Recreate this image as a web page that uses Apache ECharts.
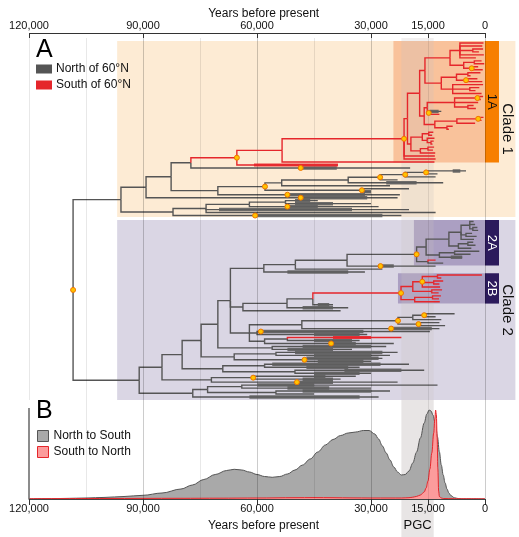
<!DOCTYPE html>
<html><head><meta charset="utf-8">
<script src="https://cdn.jsdelivr.net/npm/echarts@6/dist/echarts.min.js"></script>
<style>html,body{margin:0;padding:0;background:#fff}#c{width:519px;height:537px}</style>
</head><body><div id="c"></div>
<script>
// ---------------- DATA ----------------
// Axis ticks / labels / grid lines (years before present)
const axisLabelYears = [120000, 90000, 60000, 30000, 15000, 0];
const gridYears = [120000, 105000, 90000, 75000, 60000, 45000, 30000, 15000, 0];
const majorGridYears = [90000, 60000, 30000, 0];
const pgcYears = [22000, 13500];            // PGC band (old, young)

// Panel B densities: age (kyr BP) and relative density
const nsAgesK = [120,115,110,105,100,95,90,85,80,77,74,71,68,66,64,62,60,58,56,54,52,50,48,46,44,42,40,38,36,34,32,30.5,29,28,27,26,25,24,23,22,21,20,19,18,17,16,15.3,14.7,14.2,13.7,13,12.5,12,11.5,11,10.5,10,9.5,9,8,7,6,0];
const nsDensity = [0,0.3,0.6,1,1.6,2.5,3.7,6,10,14,19.5,24.5,28.5,29.7,29,27,24.5,22.5,21.7,22.5,25,29,34,40,47,54,59.5,63.5,66,67,68.5,68.5,65,60,53,46,39,32,27,24,24.5,28,36,47,61,76,85,89,88,84,74,62,47,34,24,16,10,6,3.5,1.2,0.4,0.1,0];
const snAgesK = [120,100,80,70,60,50,45,40,35,30,25,22,20,19,18,17,16,15.5,15,14.5,14,13.5,13.2,13.0,12.8,12.6,12.4,12.2,12.0,11.5,11,8,0];
const snDensity = [0.3,0.5,0.7,0.8,1,1.3,1.4,1.3,1.1,1,1,1,1.3,1.8,2.6,4,7,11,18,30,46,66,80,89,84,62,30,8,2.5,1,0.5,0.3,0.2];

// Panel A tree. Internal node = [age kyr, flags, ...children]; leaf = tip age kyr
// or [tip, barOld, barYoung, flags]. flags: r = south (red), g = north (grey), d = dated node marker
const clade1A = [21.3,'rd',
  [20.4,'r',
    [17.2,'r',
      [15.8,'r',
        [9.2,'r',
          [6.6,'r',0.4,0.7,[3.2,'r',0.5,1.6],0.3,2.4],
          [5.6,'r',[2.8,'r',0.9,0.2],[3.5,'rd',1.8,0.6]]],
        [11.5,'r',
          [7.5,'r',[4.5,'r',1.2,3.8],[5.0,'rd',2.0,0.7]],
          [8.5,'r',0.5,[4.0,'r',1.5,2.5],0.9]]],
      [16.0,'r',
        [15.2,'r',
          [8.0,'r',[2.0,'rd',0.5,1.1],1.8,[4.5,'r',3.0,2.4]],
          [14.8,'rd',[11.5,14.6,12.2,'g'],12.0]],
        [13.2,'r',[7.4,'r',[1.8,'rd',0.4,0.9],2.6],[10.0,'r',8.5,9.5]]]],
    [19.5,'r',
      [16.5,'r',[14.8,'r',13.6,13.9],[15.2,'r',13.3,[14.2,'r',13.5,13.8]]],
      [17.0,'r',[15.0,'r',13.4,13.7],13.1]]],
  13.2, 13.0];

const clade1 = [95.8,'',
  [89.2,'',
    [82.6,'',
      [77.4,'',
        [65.3,'rd', [53.4,'r', clade1A, 13.3], [38.7,60.8,38.7,'r']],
        [19.7,48.5,39.0,'d']],
      [70.3,'',
        [57.9,'d',
          [53.5,'',
            [36.0,'',
              [27.6,'d',[21.0,'d',[15.5,'d',[5.0,8.5,6.5],12.5],13.0],23.0],
              [11.0,26.0,18.0]],
            25.0],
          [32.4,'d',20.0,[30.0,32.0,30.0]]],
        [22.4,52.0,31.6,'d']]],
    [23.0,48.5,31.0,'d']],
  [82.1,'',
    [73.4,'',
      [62.0,'',[52.5,'',[44.0,50.0,46.0],[30.0,50.0,40.0]],[28.0,52.0,44.0,'d']],
      [20.0,70.0,35.0],
      13.0],
    [22.0,60.5,27.0,'d']]];

const clade2A = [18.0,'d',
  [15.5,'',
    [9.5,'',[6.3,'',[4.0,'',3.0,2.6,[3.2,'',2.0,1.8]],[5.0,'',3.4,2.2],2.9],[7.0,'',[4.5,'',3.1,2.5],3.6]],
    [12.0,'',[8.0,'',1.5,3.8],[6.0,9.0,6.0]]],
  [15.0,'',[13.0,0,0,'r'],11.0]];

const clade2B = [22.1,'rd',
  [19.0,'r',
    [16.5,'rd',[12.5,'r',0.8,11.5],[13.5,'r',11.0,12.0],11.8],
    [14.0,'r',11.3,12.2]],
  [18.5,'r',[13.8,'r',11.6,12.1],11.9]];

const clade2 = [91.0,'',
  [85.0,'',
    [79.7,'',
      [74.7,'',
        [70.3,'',
          [67.0,'',
            [58.2,'',[49.9,'',[36.3,'',clade2A,[13.0,27.5,24.0,'d']],27.0],[31.6,52.0,36.0]],
            [63.7,'',[52.1,'',[45.3,'',clade2B,[40.0,44.0,41.0]],[36.0,48.0,40.0]],38.0],
            [62.0,'',
              [48.2,'',[22.9,'d',[19.0,'',[16.0,'d',8.0,13.0],11.5],[17.5,'d',12.0,10.5]],[12.0,24.7,14.0,'d']],
              [60.0,'',[14.5,59.0,32.0,'d'],[31.0,45.0,33.0]],
              [58.0,'',[52.0,'',[22.0,40.0,30.0,'r'],[33.0,45.0,35.0]],[24.0,40.5,34.0,'d']]]],
          [56.0,'',[26.0,48.0,30.0],[35.0,52.0,40.0]]],
        [66.0,'',[55.0,'',[23.0,50.0,27.0],[25.0,45.0,30.0]],[47.5,'d',[27.0,47.0,28.0],[30.0,44.0,32.0]]]],
      [69.0,'',[58.0,'',[20.0,56.0,27.5],[33.0,47.0,36.0]],[50.0,'',[16.0,37.0,22.0],[30.0,45.0,33.0]]]],
    [72.0,'',[61.0,'d',[34.0,45.0,42.0],[38.0,48.0,40.0]],[23.0,49.5,40.0,'d']]],
  [76.9,'',[73.0,'',[64.0,'',[12.5,60.0,45.0],[30.0,52.0,41.0]],[55.0,'',[25.0,48.0,30.0],45.0]],[28.0,62.0,33.0]]];

const treeRoot = [108.4,'d', clade1, clade2];

// Left edges (kyr BP) of the highlighted clade boxes
const boxStartK = {clade: 96.8, c1A: 24.1, c2A: 18.7, c2B: 22.9};

// ---------------- LAYOUT ----------------
const FONT = '"Liberation Sans", Arial, Helvetica, sans-serif';
const X_MIN = -8000;          // room right of "0" for clade tabs
const TAB_END = -3680;
const CLADE_GAP = 1;
const nodeInfo = new Map();
let leafCursor = 0;
function isLeaf(n) { return typeof n === 'number' || typeof n[1] !== 'string'; }
function layout(node, parentRed) {
  if (isLeaf(node)) {
    const a = typeof node === 'number' ? [node] : node;
    const f = a[3] || '';
    const red = f.includes('r') ? true : (f.includes('g') ? false : parentRed);
    const y = leafCursor++;
    return {age: a[0] * 1000, y, minY: y, maxY: y, red, children: [],
      bar: a[1] ? [a[1] * 1000, a[2] * 1000] : null, barRed: f.includes('r'), dot: f.includes('d')};
  }
  const f = node[1];
  const red = f.includes('r') ? true : (f.includes('g') ? false : parentRed);
  if (node === clade2) leafCursor += CLADE_GAP;
  const children = node.slice(2).map(c => layout(c, red));
  const info = {age: node[0] * 1000, red, dot: f.includes('d'), children,
    y: (children[0].y + children[children.length - 1].y) / 2,
    minY: children[0].minY, maxY: children[children.length - 1].maxY};
  nodeInfo.set(node, info);
  return info;
}
const root = layout(treeRoot, false);
const lastIdx = leafCursor - 1;

const grayLines = [], redLines = [], grayBars = [], redBars = [], dotPts = [];
function collect(n) {
  n.children.forEach(c => {
    (c.red ? redLines : grayLines).push({coords: [[n.age, n.y], [n.age, c.y], [c.age, c.y]]});
    collect(c);
  });
  if (n.bar) (n.barRed ? redBars : grayBars).push({coords: [[n.bar[0], n.y], [n.bar[1], n.y]]});
  if (n.dot) dotPts.push([n.bar ? n.bar[0] : n.age, n.y]);
}
collect(root);

// pixel geometry of panel A (leaf 0 at 43px, last leaf at 397px)
const G0_TOP = 33, G0_BOTTOM = 400, LEAF_TOP = 43, LEAF_BOTTOM = 397;
const s = (LEAF_BOTTOM - LEAF_TOP) / lastIdx;
const yMin = -(LEAF_TOP - G0_TOP) / s;
const yMax = lastIdx + (G0_BOTTOM - LEAF_BOTTOM) / s;
const yGridTop = -(LEAF_TOP - 38) / s;

const c1 = nodeInfo.get(clade1), c2 = nodeInfo.get(clade2);
const a1 = nodeInfo.get(clade1A), a2 = nodeInfo.get(clade2A), b2 = nodeInfo.get(clade2B);
const c1Top = c1.minY - 0.67, c1Bot = c1.maxY + 0.5;
const c2Top = c2.minY - 0.5, c2Bot = yMax;
const a1Top = a1.minY - 0.67, a1Bot = a1.maxY + 1.2;
const a2Top = a2.minY - 0.5, a2Bot = a2.maxY + 0.8;
const b2Top = b2.minY - 0.6, b2Bot = b2.maxY + 0.6;

function area(x1, y1, x2, y2, color, label, name) {
  const first = {coord: [x1, y1], itemStyle: {color}};
  if (label) { first.name = name; first.label = Object.assign({show: true, position: 'inside', rotate: -90, fontFamily: FONT}, label); }
  else first.label = {show: false};
  return [first, {coord: [x2, y2]}];
}
const boxAreas = [
  area(boxStartK.clade * 1000, c1Top, X_MIN, c1Bot, '#fdebd4'),
  area(boxStartK.clade * 1000, c2Top, X_MIN, c2Bot, '#dad6e4'),
  area(boxStartK.c1A * 1000, a1Top, 0, a1Bot, '#f9c29b'),
  area(boxStartK.c2A * 1000, a2Top, 0, a2Bot, '#ab9fc2'),
  area(boxStartK.c2B * 1000, b2Top, 0, b2Bot, '#ab9fc2'),
  area(0, a1Top, TAB_END, a1Bot, '#f77f00', {color: '#111', fontSize: 13}, '1A'),
  area(0, a2Top, TAB_END, a2Bot, '#2c1a5c', {color: '#fff', fontSize: 13}, '2A'),
  area(0, b2Top, TAB_END, b2Bot, '#2c1a5c', {color: '#fff', fontSize: 13}, '2B'),
  area(TAB_END, c1Top, X_MIN, c1Bot, 'rgba(0,0,0,0)', {color: '#111', fontSize: 15}, 'Clade 1'),
  area(TAB_END, c2Top, X_MIN, c2Bot, 'rgba(0,0,0,0)', {color: '#111', fontSize: 15}, 'Clade 2')
];

function gridColor(x) { return majorGridYears.includes(x) ? 'rgba(0,0,0,0.2)' : 'rgba(0,0,0,0.09)'; }
const gridLines0 = gridYears.map(x => [{coord: [x, yGridTop], lineStyle: {color: gridColor(x), width: 1, type: 'solid'}}, {coord: [x, yMax]}]);
gridLines0.push([{coord: [120000, yMin], lineStyle: {color: '#333', width: 1, type: 'solid'}}, {coord: [0, yMin]}]);
const gridLines1 = gridYears.filter(x => x !== 120000).map(x => [{coord: [x, 0], lineStyle: {color: gridColor(x), width: 1, type: 'solid'}}, {coord: [x, 99]}]);
gridLines1.push([{coord: [120000, 0], lineStyle: {color: '#666', width: 1.5, type: 'solid'}}, {coord: [120000, 91]}]);

const PGC_TOP_COLOR = 'rgba(200,194,194,0.24)';
const PGC_COLOR = 'rgba(200,194,194,0.42)';
const nsData = nsAgesK.map((k, i) => [k * 1000, nsDensity[i]]);
const snData = snAgesK.map((k, i) => [k * 1000, snDensity[i]]);
const fmt = v => Number(v).toLocaleString('en-US');

const linesBase = {type: 'lines', coordinateSystem: 'cartesian2d', xAxisIndex: 0, yAxisIndex: 0, polyline: true, silent: true};

const option = {
  animation: false,
  textStyle: {fontFamily: FONT},
  title: [
    {text: 'A', left: 36, top: 38, padding: 0, textStyle: {fontSize: 25, fontWeight: 'normal', color: '#000', fontFamily: FONT}},
    {text: 'B', left: 36, top: 399, padding: 0, textStyle: {fontSize: 25, fontWeight: 'normal', color: '#000', fontFamily: FONT}}
  ],
  legend: [
    {data: [{name: 'North of 60°N', icon: 'rect', itemStyle: {color: '#555'}},
            {name: 'South of 60°N', icon: 'rect', itemStyle: {color: '#e5262b'}}],
     orient: 'vertical', left: 36, top: 63, padding: 0, itemWidth: 14, itemHeight: 7, itemGap: 4,
     selectedMode: false, textStyle: {fontSize: 12, color: '#111', fontFamily: FONT}},
    {data: [{name: 'North to South', icon: 'rect', itemStyle: {color: '#a9a9a9', borderColor: '#555', borderWidth: 1}},
            {name: 'South to North', icon: 'rect', itemStyle: {color: '#fc9c9c', borderColor: '#e5262b', borderWidth: 1}}],
     orient: 'vertical', left: 37, top: 430, padding: 0, itemWidth: 11, itemHeight: 11, itemGap: 4,
     selectedMode: false, textStyle: {fontSize: 12, color: '#111', fontFamily: FONT}}
  ],
  grid: [
    {left: 29, top: G0_TOP, width: 128000 * 0.0038, height: G0_BOTTOM - G0_TOP, outerBoundsMode: 'none', containLabel: false},
    {left: 29, top: 400, width: 456, height: 99, outerBoundsMode: 'none', containLabel: false},
    {left: 29, top: 499, width: 456, height: 38, outerBoundsMode: 'none', containLabel: false}
  ],
  xAxis: [
    {gridIndex: 0, type: 'value', inverse: true, min: X_MIN, max: 120000, position: 'top',
     axisLine: {show: false, onZero: false},
     axisTick: {show: true, inside: true, length: 5, customValues: axisLabelYears, lineStyle: {color: '#333'}},
     axisLabel: {customValues: axisLabelYears, formatter: fmt, margin: 2, fontSize: 11, color: '#111', fontFamily: FONT},
     splitLine: {show: false},
     name: 'Years before present', nameLocation: 'middle', nameGap: 13, nameMoveOverlap: false,
     nameTextStyle: {fontSize: 12, color: '#111', fontFamily: FONT, padding: [0, 17, 0, 0]}},
    {gridIndex: 1, type: 'value', inverse: true, min: 0, max: 120000, position: 'bottom', z: 6,
     axisLine: {show: true, onZero: false, lineStyle: {color: '#444', width: 1}},
     axisTick: {show: true, length: 6, customValues: axisLabelYears, lineStyle: {color: '#333'}},
     axisLabel: {customValues: axisLabelYears, formatter: fmt, margin: 4, fontSize: 11, color: '#111', fontFamily: FONT},
     splitLine: {show: false},
     name: 'Years before present', nameLocation: 'middle', nameGap: 21, nameMoveOverlap: false,
     nameTextStyle: {fontSize: 12, color: '#111', fontFamily: FONT, padding: [0, 0, 0, 13]}},
    {gridIndex: 2, type: 'value', inverse: true, min: 0, max: 120000, show: false}
  ],
  yAxis: [
    {gridIndex: 0, type: 'value', inverse: true, min: yMin, max: yMax, show: false},
    {gridIndex: 1, type: 'value', min: 0, max: 99, show: false},
    {gridIndex: 2, type: 'value', min: 0, max: 1, show: false}
  ],
  series: [
    {type: 'scatter', xAxisIndex: 0, yAxisIndex: 0, data: [], z: 1, silent: true,
     markArea: {silent: true, data: boxAreas}},
    {type: 'scatter', xAxisIndex: 0, yAxisIndex: 0, data: [], z: 2, silent: true,
     markLine: {silent: true, symbol: ['none', 'none'], label: {show: false}, data: gridLines0}},
    {type: 'scatter', xAxisIndex: 0, yAxisIndex: 0, data: [], z: 3, silent: true,
     markArea: {silent: true, data: [[{coord: [pgcYears[0], yGridTop], itemStyle: {color: PGC_TOP_COLOR}, label: {show: false}}, {coord: [pgcYears[1], yMax]}]]}},
    Object.assign({}, linesBase, {name: 'North of 60°N', z: 4, data: grayLines, lineStyle: {color: '#555', width: 1.4, opacity: 1}}),
    Object.assign({}, linesBase, {name: 'northBars', z: 5, data: grayBars, lineStyle: {color: '#5e5e5e', width: 3.5, opacity: 0.9, cap: 'butt'}}),
    Object.assign({}, linesBase, {name: 'South of 60°N', z: 6, data: redLines, lineStyle: {color: '#e5262b', width: 1.4, opacity: 1}}),
    Object.assign({}, linesBase, {name: 'southBars', z: 6, data: redBars, lineStyle: {color: '#e5262b', width: 3, opacity: 0.9, cap: 'butt'}}),
    {type: 'scatter', name: 'nodes', xAxisIndex: 0, yAxisIndex: 0, z: 7, silent: true, data: dotPts,
     symbol: 'circle', symbolSize: 5, itemStyle: {color: '#ffc400', borderColor: '#f07400', borderWidth: 1, opacity: 1}},
    {type: 'scatter', xAxisIndex: 1, yAxisIndex: 1, data: [], z: 1, silent: true,
     markArea: {silent: true, data: [[{coord: [pgcYears[0], 0], itemStyle: {color: PGC_COLOR}, label: {show: false}}, {coord: [pgcYears[1], 99]}]]},
     markLine: {silent: true, symbol: ['none', 'none'], label: {show: false}, data: gridLines1}},
    {type: 'scatter', xAxisIndex: 2, yAxisIndex: 2, data: [], z: 1, silent: true,
     markArea: {silent: true, data: [[{name: 'PGC', coord: [pgcYears[0], 0], itemStyle: {color: PGC_COLOR},
       label: {show: true, position: 'insideBottom', distance: 5, fontSize: 13, color: '#111', fontFamily: FONT}}, {coord: [pgcYears[1], 1]}]]}},
    {type: 'line', name: 'North to South', xAxisIndex: 1, yAxisIndex: 1, z: 3, data: nsData, smooth: 0.35, smoothMonotone: 'x',
     showSymbol: false, silent: true, lineStyle: {color: '#555', width: 1}, areaStyle: {color: '#a9a9a9', opacity: 1}},
    {type: 'line', name: 'South to North', xAxisIndex: 1, yAxisIndex: 1, z: 4, data: snData, smooth: 0.35, smoothMonotone: 'x',
     showSymbol: false, silent: true, lineStyle: {color: '#e5262b', width: 1}, areaStyle: {color: '#fc9c9c', opacity: 1}}
  ]
};
const chart = echarts.init(document.getElementById('c'), null, {renderer: 'canvas'});
chart.setOption(option);
</script></body></html>
